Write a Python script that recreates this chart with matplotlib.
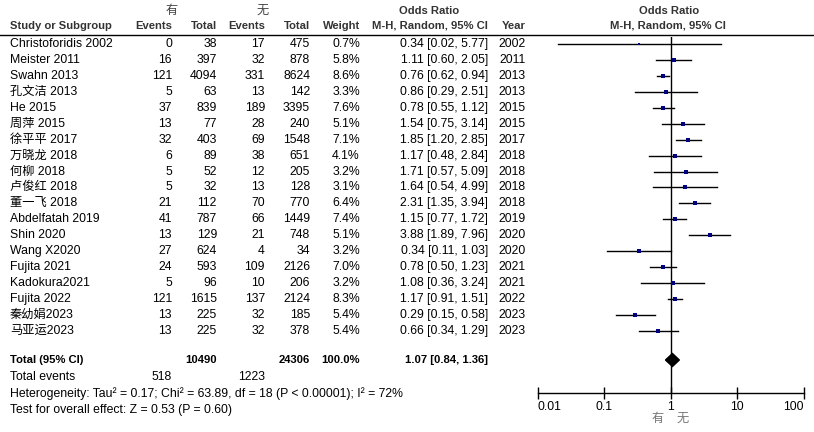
import matplotlib
matplotlib.use('Agg')
import matplotlib.pyplot as plt
from matplotlib.patches import Polygon

plt.rcParams['font.family'] = ['Liberation Sans', 'Noto Sans CJK SC', 'DejaVu Sans']
plt.rcParams['font.size'] = 8.8

studies = ['Christoforidis 2002', 'Meister 2011', 'Swahn 2013', '孔文洁 2013', 'He 2015',
           '周萍 2015', '徐平平 2017', '万晓龙 2018', '何柳 2018', '卢俊红 2018', '董一飞 2018',
           'Abdelfatah 2019', 'Shin 2020', 'Wang X2020', 'Fujita 2021', 'Kadokura2021',
           'Fujita 2022', '秦幼娟2023', '马亚运2023']
ev1 = [0, 16, 121, 5, 37, 13, 32, 6, 5, 5, 21, 41, 13, 27, 24, 5, 121, 13, 13]
tot1 = [38, 397, 4094, 63, 839, 77, 403, 89, 52, 32, 112, 787, 129, 624, 593, 96, 1615, 225, 225]
ev2 = [17, 32, 331, 13, 189, 28, 69, 38, 12, 13, 70, 66, 21, 4, 109, 10, 137, 32, 32]
tot2 = [475, 878, 8624, 142, 3395, 240, 1548, 651, 205, 128, 770, 1449, 748, 34, 2126, 206, 2124, 185, 378]
weight = [0.7, 5.8, 8.6, 3.3, 7.6, 5.1, 7.1, 4.1, 3.2, 3.1, 6.4, 7.4, 5.1, 3.2, 7.0, 3.2, 8.3, 5.4, 5.4]
odds = [0.34, 1.11, 0.76, 0.86, 0.78, 1.54, 1.85, 1.17, 1.71, 1.64, 2.31, 1.15, 3.88, 0.34, 0.78, 1.08, 1.17, 0.29, 0.66]
lo = [0.02, 0.60, 0.62, 0.29, 0.55, 0.75, 1.20, 0.48, 0.57, 0.54, 1.35, 0.77, 1.89, 0.11, 0.50, 0.36, 0.91, 0.15, 0.34]
hi = [5.77, 2.05, 0.94, 2.51, 1.12, 3.14, 2.85, 2.84, 5.09, 4.99, 3.94, 1.72, 7.96, 1.03, 1.23, 3.24, 1.51, 0.58, 1.29]
years = [2002, 2011, 2013, 2013, 2015, 2015, 2017, 2018, 2018, 2018, 2018, 2019, 2020, 2020, 2021, 2021, 2022, 2023, 2023]
total_or, total_lo, total_hi = 1.07, 0.84, 1.36
ticks = [0.01, 0.1, 1, 10, 100]
tick_labels = ['0.01', '0.1', '1', '10', '100']

W, H = 814, 432
fig = plt.figure(figsize=(W / 100, H / 100), dpi=100)
ax = fig.add_axes([0, 0, 1, 1])
ax.set_xlim(0, W)
ax.set_ylim(H, 0)
ax.axis('off')

row0, step = 44, 15.94
def ry(i):
    return row0 + i * step

BS = 8.1  # bold header size
# headers
ax.text(172, 11, '有', ha='center', va='center', color='#444444')
ax.text(263, 11, '无', ha='center', va='center', color='#444444')
ax.text(429, 11, 'Odds Ratio', ha='center', va='center', weight='bold', color='#333333', size=BS)
ax.text(669, 11, 'Odds Ratio', ha='center', va='center', weight='bold', color='#333333', size=BS)
hy = 26
for x, s, ha in [(10, 'Study or Subgroup', 'left'), (172, 'Events', 'right'), (217, 'Total', 'right'),
                 (265, 'Events', 'right'), (310, 'Total', 'right'), (360, 'Weight', 'right'),
                 (488, 'M-H, Random, 95% CI', 'right'), (526, 'Year', 'right'),
                 (668, 'M-H, Random, 95% CI', 'center')]:
    ax.text(x, hy, s, ha=ha, va='center', weight='bold', color='#333333', size=BS)
ax.plot([0, W], [34.5, 34.5], color='black', lw=1)

for i, s in enumerate(studies):
    y = ry(i)
    ax.text(10, y, s, ha='left', va='center')
    ax.text(172, y, str(ev1[i]), ha='right', va='center')
    ax.text(217, y, str(tot1[i]), ha='right', va='center')
    ax.text(265, y, str(ev2[i]), ha='right', va='center')
    ax.text(310, y, str(tot2[i]), ha='right', va='center')
    ax.text(360, y, f'{weight[i]:.1f}%', ha='right', va='center')
    ax.text(488, y, f'{odds[i]:.2f} [{lo[i]:.2f}, {hi[i]:.2f}]', ha='right', va='center')
    ax.text(526, y, str(years[i]), ha='right', va='center')

ty = 360
ax.text(10, ty, 'Total (95% CI)', ha='left', va='center', weight='bold', size=BS)
ax.text(217, ty, str(sum(tot1)), ha='right', va='center', weight='bold', size=BS)
ax.text(310, ty, str(sum(tot2)), ha='right', va='center', weight='bold', size=BS)
ax.text(360, ty, '100.0%', ha='right', va='center', weight='bold', size=BS)
ax.text(488, ty, f'{total_or:.2f} [{total_lo:.2f}, {total_hi:.2f}]', ha='right', va='center',
        weight='bold', size=BS)
ax.text(10, 377, 'Total events', ha='left', va='center')
ax.text(172, 377, str(sum(ev1)), ha='right', va='center')
ax.text(265, 377, str(sum(ev2)), ha='right', va='center')
ax.text(10, 394, 'Heterogeneity: Tau² = 0.17; Chi² = 63.89, df = 18 (P < 0.00001); I² = 72%',
        ha='left', va='center')
ax.text(10, 410, 'Test for overall effect: Z = 0.53 (P = 0.60)', ha='left', va='center')
ax.text(658, 419, '有', ha='center', va='center', color='#777777')
ax.text(683, 419, '无', ha='center', va='center', color='#777777')

# forest panel
x0, x1, ytop, ybot = 537.5, 803.5, 37, 393
fa = fig.add_axes([x0 / W, 1 - ybot / H, (x1 - x0) / W, (ybot - ytop) / H])
fa.patch.set_alpha(0)
fa.set_xscale('log')
fa.set_xlim(0.01, 100)
fa.set_ylim((ybot - row0) / step, (ytop - row0) / step)
for sp in ['top', 'left', 'right']:
    fa.spines[sp].set_visible(False)
fa.spines['bottom'].set_linewidth(1)
fa.set_yticks([])
fa.set_xticks(ticks)
fa.set_xticklabels(tick_labels)
fa.minorticks_off()
fa.tick_params(axis='x', direction='inout', length=8, width=1, pad=2, labelsize=8.8)
tl = fa.get_xticklabels()
tl[0].set_ha('left')
tl[-1].set_ha('right')
fa.axvline(1, color='black', lw=1)

for i in range(len(studies)):
    fa.plot([lo[i], hi[i]], [i, i], color='black', lw=1)
    fa.plot(odds[i], i, marker='s', color='#000080', ms=0.8 * weight[i] ** 0.5 + 0.8, mew=0, zorder=3)

ti = (ty - row0) / step
dh = 6.5 / step
fa.add_patch(Polygon([(total_lo, ti), (total_or, ti - dh), (total_hi, ti), (total_or, ti + dh)],
                     closed=True, color='black'))

fig.savefig('out.png', dpi=100)
